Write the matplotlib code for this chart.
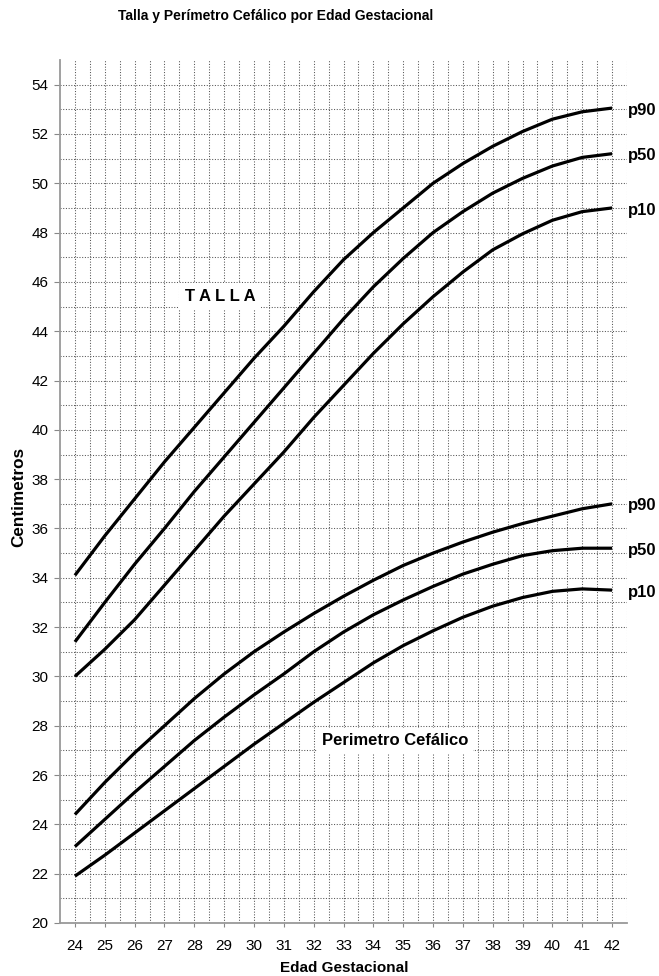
import numpy as np
import matplotlib
matplotlib.use("Agg")
import matplotlib.pyplot as plt
from matplotlib import font_manager
from matplotlib.ticker import FixedLocator

# Edad gestacional (semanas)
semanas = list(range(24, 43))

# Talla (cm)
talla_p90 = [34.1, 35.7, 37.2, 38.7, 40.1, 41.5, 42.9, 44.2, 45.6, 46.9, 48.0,
             49.0, 50.0, 50.8, 51.5, 52.1, 52.6, 52.9, 53.05]
talla_p50 = [31.4, 33.0, 34.55, 36.0, 37.5, 38.9, 40.3, 41.7, 43.1, 44.5, 45.8,
             46.95, 48.0, 48.85, 49.6, 50.2, 50.7, 51.05, 51.2]
talla_p10 = [30.0, 31.1, 32.3, 33.7, 35.1, 36.5, 37.8, 39.1, 40.5, 41.8, 43.1,
             44.3, 45.4, 46.4, 47.3, 47.95, 48.5, 48.85, 49.0]

# Perimetro cefalico (cm)
pc_p90 = [24.4, 25.7, 26.9, 28.0, 29.1, 30.1, 31.0, 31.8, 32.55, 33.25, 33.9,
          34.5, 35.0, 35.45, 35.85, 36.2, 36.5, 36.8, 37.0]
pc_p50 = [23.1, 24.2, 25.3, 26.35, 27.4, 28.35, 29.25, 30.1, 31.0, 31.8, 32.5,
          33.1, 33.65, 34.15, 34.55, 34.9, 35.1, 35.2, 35.2]
pc_p10 = [21.9, 22.75, 23.65, 24.55, 25.45, 26.35, 27.25, 28.1, 28.95, 29.75,
          30.55, 31.25, 31.85, 32.4, 32.85, 33.2, 33.45, 33.55, 33.5]

curvas = [("p90", talla_p90), ("p50", talla_p50), ("p10", talla_p10),
          ("p90", pc_p90), ("p50", pc_p50), ("p10", pc_p10)]

plt.rcParams['font.family'] = ['Liberation Sans', 'DejaVu Sans']

try:
    font_manager.findfont('Liberation Sans Narrow', fallback_to_default=False)
    fuente_titulo = ['Liberation Sans Narrow', 'Liberation Sans']
    tam_titulo = 12.5
except ValueError:
    fuente_titulo = ['Liberation Sans']
    tam_titulo = 10

fig = plt.figure(figsize=(6.59, 9.76), dpi=100)
ax = fig.add_axes([60 / 659, 53 / 976, 567 / 659, 863 / 976])

for nombre, valores in curvas:
    ax.plot(semanas, valores, color='black', lw=2.3, solid_joinstyle='round',
            solid_capstyle='butt', zorder=3)
    ax.annotate(nombre, (semanas[-1], valores[-1]), xytext=(11.5, -1.5),
                textcoords='offset points', va='center', ha='left',
                fontsize=12, fontweight='bold', annotation_clip=False)

ax.set_xlim(23.5, 42.5)
ax.set_ylim(20, 55)
ax.xaxis.set_major_locator(FixedLocator(semanas))
ax.xaxis.set_minor_locator(FixedLocator(np.arange(24, 42.6, 0.5)))
ax.yaxis.set_major_locator(FixedLocator(range(20, 55, 2)))
ax.yaxis.set_minor_locator(FixedLocator(range(21, 55)))

# cuadricula punteada cada media semana y cada centimetro
grid_style = dict(color='#555555', linestyle=(0, (1, 1.6)), linewidth=0.75)
ax.grid(True, which='both', axis='both', **grid_style)
ax.set_axisbelow(True)

ax.tick_params(axis='x', which='major', length=3, width=0.8, color='#888888',
               labelsize=11, pad=8.5)
ax.tick_params(axis='y', which='major', length=4.3, width=0.8, color='#888888',
               labelsize=11, pad=4)
ax.tick_params(which='minor', length=0)

for lado in ['top', 'right']:
    ax.spines[lado].set_visible(False)
for lado in ['left', 'bottom']:
    ax.spines[lado].set_color('#999999')
    ax.spines[lado].set_linewidth(1.3)

ax.text(28.86, 45.4, "T A L L A", fontsize=12, fontweight='bold',
        ha='center', va='center', zorder=4,
        bbox=dict(boxstyle='square,pad=0.35', fc='white', ec='none'))
ax.text(32.28, 27.42, "Perimetro Cefálico", fontsize=12, fontweight='bold',
        ha='left', va='center', zorder=4,
        bbox=dict(boxstyle='square,pad=0.3', fc='white', ec='none'))

fig.text(276 / 659, 1 - 16 / 976, "Talla y Perímetro Cefálico por Edad Gestacional",
         ha='center', va='center', fontsize=tam_titulo, fontweight='bold',
         family=fuente_titulo)
fig.text(344 / 659, 1 - 968 / 976, "Edad Gestacional", ha='center', va='center',
         fontsize=11, fontweight='bold')
fig.text(19 / 659, 1 - 497 / 976, "Centimetros", ha='center', va='center',
         rotation=90, fontsize=12.3, fontweight='bold')

fig.savefig("out.png", dpi=100)
